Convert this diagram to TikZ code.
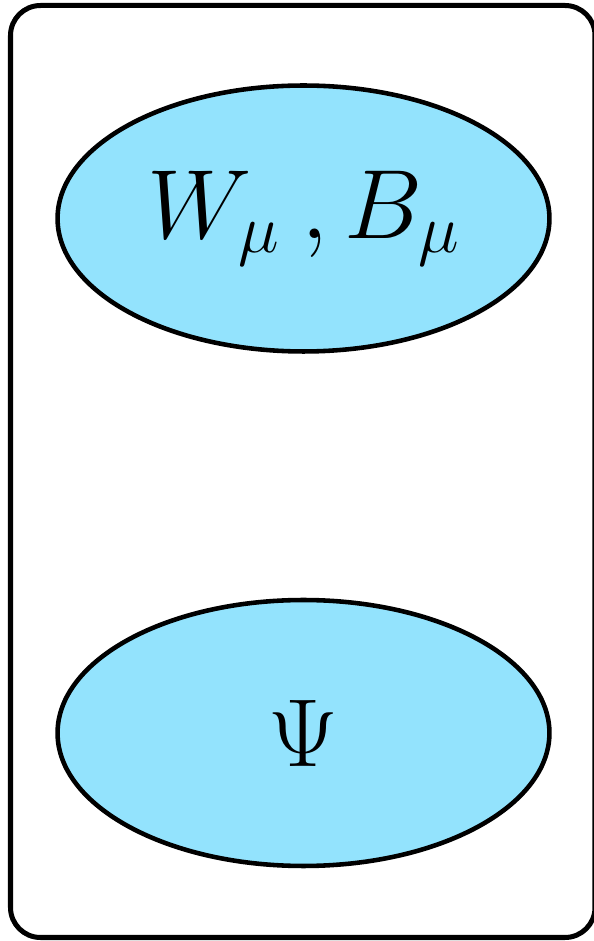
\RequirePackage{fix-cm}
\documentclass[tikz,border=0pt]{standalone}
\usepackage{amsmath, amssymb}
\usepackage{xcolor}
\usepackage{tikz}
\usetikzlibrary{shapes.geometric}

\definecolor{fieldblue}{RGB}{147,227,253}

\begin{document}
\begin{tikzpicture}[x=0.02cm, y=0.02cm,
	field/.style={ellipse, draw=black, line width=2.6pt, fill=fieldblue,
		minimum width=9.84cm, minimum height=5.32cm, inner sep=0pt}]
	\useasboundingbox (0,0) rectangle (594,941);
	
	% Rahmen
	\draw[line width=2.85pt, rounded corners=0.6cm] (10.5,3.5) rectangle (595,935.5);
	
	% Felder
	\node[field] (gauge) at (303.5,722.5) {};
	\node[font=\fontsize{56}{67}\selectfont] (gaugelabel) at (gauge.center) {$W_\mu\:,B_\mu$};
	
	\node[field] (fermion) at (303.5,208) {};
	\node[font=\fontsize{55}{66}\selectfont] (fermionlabel) at (fermion.center) {$\Psi$};
\end{tikzpicture}
\end{document}
